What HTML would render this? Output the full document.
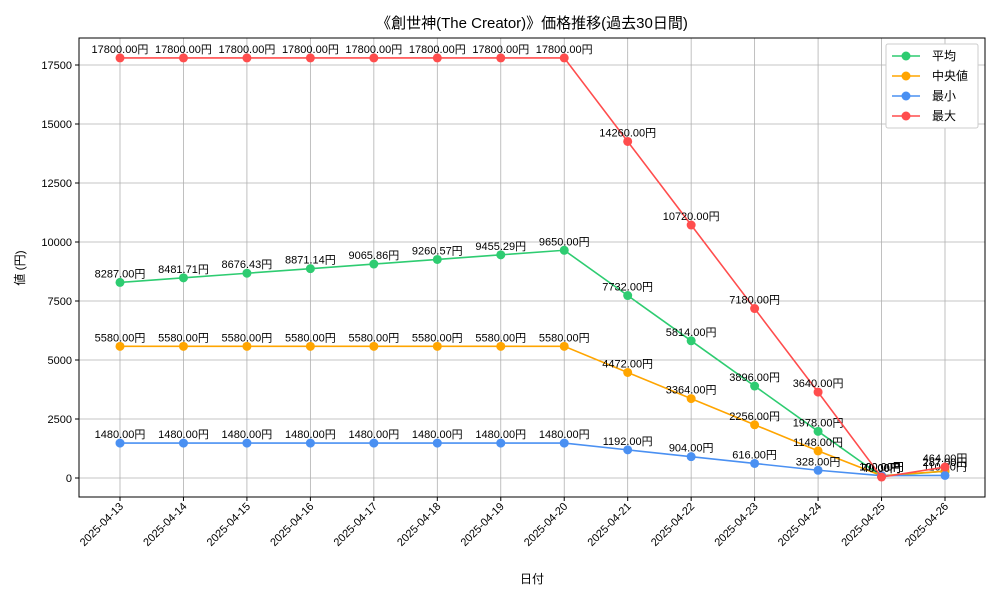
<!DOCTYPE html>
<html><head><meta charset="utf-8"><style>
body{margin:0;background:#fff;font-family:"Liberation Sans","Noto Sans CJK JP",sans-serif}
svg text{font-family:"Liberation Sans","Noto Sans CJK JP",sans-serif}
</style></head><body>
<svg id="chart" width="1000" height="600" xmlns="http://www.w3.org/2000/svg">
<text x="532" y="28" text-anchor="middle" font-size="15">《創世神(The Creator)》価格推移(過去30日間)</text>
<g id="grid"></g><g id="axes"></g><g id="series"></g>
<text x="532" y="583" text-anchor="middle" font-size="12">日付</text>
<text transform="translate(24,268) rotate(-90)" text-anchor="middle" font-size="12">値 (円)</text>
<g>
<rect x="886" y="44" width="92" height="84" fill="#fff" stroke="#ccc" rx="2"/>
<g id="legend"></g>
</g>
</svg>
<script>
const dates=["2025-04-13","2025-04-14","2025-04-15","2025-04-16","2025-04-17","2025-04-18","2025-04-19","2025-04-20","2025-04-21","2025-04-22","2025-04-23","2025-04-24","2025-04-25","2025-04-26"];
const avgVals=[8287,8481.71,8676.43,8871.14,9065.86,9260.57,9455.29,9650,7732,5814,3896,1978,70,287];
const medianVals=[5580,5580,5580,5580,5580,5580,5580,5580,4472,3364,2256,1148,100,287];
const minVals=[1480,1480,1480,1480,1480,1480,1480,1480,1192,904,616,328,100,110];
const maxVals=[17800,17800,17800,17800,17800,17800,17800,17800,14260,10720,7180,3640,40,464];
const yTicks=[0,2500,5000,7500,10000,12500,15000,17500];
const seriesNames=["平均","中央値","最小","最大"];
const NS="http://www.w3.org/2000/svg";
const L=79,R=985,T=38,B=497,yMin=-805,yMax=18644;
const x=i=>120+i*(945-120)/(dates.length-1);
const y=v=>B-(v-yMin)/(yMax-yMin)*(B-T);
function mk(t,a,p){const e=document.createElementNS(NS,t);for(const k in a)e.setAttribute(k,a[k]);p.appendChild(e);return e;}
const grid=document.getElementById('grid'),axes=document.getElementById('axes'),ser=document.getElementById('series'),leg=document.getElementById('legend');
dates.forEach((d,i)=>{
 const g=mk('line',{x1:x(i),x2:x(i),y1:T,y2:B,stroke:'#b0b0b0','stroke-width':0.8},grid);
 
 
 mk('line',{x1:x(i),x2:x(i),y1:B,y2:B+4,stroke:'#000'},axes);
 const t=mk('text',{x:x(i)+4,y:B+10,'font-size':11,'text-anchor':'end',transform:`rotate(-45 ${x(i)+4} ${B+10})`},axes);
 t.textContent=d;
 
 
});
yTicks.forEach(v=>{
 const g=mk('line',{x1:L,x2:R,y1:y(v),y2:y(v),stroke:'#b0b0b0','stroke-width':0.8},grid);
 
 
 mk('line',{x1:L-4,x2:L,y1:y(v),y2:y(v),stroke:'#000'},axes);
 const t=mk('text',{x:L-7,y:y(v)+4,'font-size':11,'text-anchor':'end'},axes);
 t.textContent=v;
 
 
});
const frame=mk('rect',{x:L,y:T,width:R-L,height:B-T,fill:'none',stroke:'#000'},axes);


const all=[[avgVals,'#2ecc71','avg'],[medianVals,'#ffa500','median'],[minVals,'#4a90f2','min'],[maxVals,'#ff4d4d','max']];
all.forEach(([vals,c,n],si)=>{
 const p=mk('polyline',{points:vals.map((v,i)=>x(i)+','+y(v)).join(' '),fill:'none',stroke:c,'stroke-width':1.6},ser);
 
 
 vals.forEach((v,i)=>{
  const dot=mk('circle',{cx:x(i),cy:y(v),r:4.5,fill:c},ser);
  
  
  const t=mk('text',{x:x(i),y:y(v)-5,'font-size':11,'text-anchor':'middle'},ser);
  t.textContent=v.toFixed(2)+'円';
  
  
 });
 const ly=56+si*20;
 mk('line',{x1:892,x2:920,y1:ly,y2:ly,stroke:c,'stroke-width':1.6},leg);
 mk('circle',{cx:906,cy:ly,r:4.5,fill:c},leg);
 const lt=mk('text',{x:932,y:ly+4,'font-size':12},leg);
 lt.textContent=seriesNames[si];
 
 
});
</script>
</body></html>
